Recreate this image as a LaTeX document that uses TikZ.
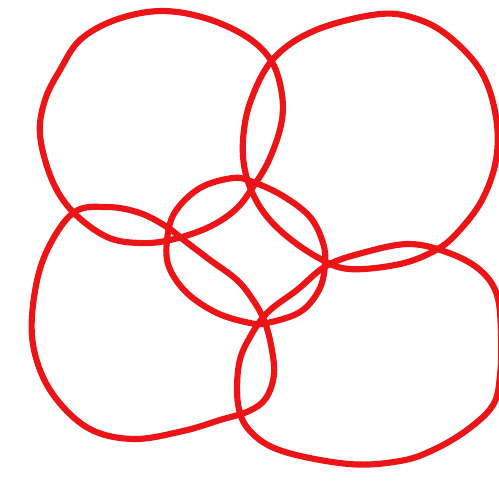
\documentclass[tikz,border=0pt]{standalone}
\definecolor{loopred}{RGB}{236,20,22}
\begin{document}
\begin{tikzpicture}[x=0.02cm,y=-0.02cm,
  loopline/.style={draw=loopred,line width=3.5pt,line join=round}]
\useasboundingbox (0,0) rectangle (499,481);
% top-left loop
\draw[loopline] plot[smooth cycle,tension=0.6] coordinates {
 (160,11) (205,18) (247,37) (272,62) (282,95) (281,125) (269,160) (253,187)
 (235,210) (207,228) (170,240) (140,243) (107,237) (73,212) (52,180) (40,135)
 (45,100) (60,70) (80,40) (115,20)};
% top-right loop
\draw[loopline] plot[smooth cycle,tension=0.6] coordinates {
 (380,14) (420,20) (452,39) (482,73) (496,117) (496,160) (482,200) (458,232)
 (436,250) (400,264) (349,269) (317,257) (283,233) (260,207) (246,175) (243,140)
 (251,100) (274,58) (316,30)};
% middle loop
\draw[loopline] plot[smooth cycle,tension=0.6] coordinates {
 (233,178) (253,182) (283,196) (310,217) (323,243) (325,265) (319,290) (300,312)
 (267,323) (250,323) (217,313) (187,293) (169,267) (167,240) (175,212) (200,188)};
% bottom-left loop
\draw[loopline] plot[smooth cycle,tension=0.6] coordinates {
 (107,207) (140,213) (167,227) (185,241) (210,260) (237,280) (253,300) (264,320)
 (271,345) (274,374) (266,398) (249,411) (220,420) (183,431) (133,439) (88,428)
 (52,393) (34,350) (33,305) (45,255) (73,213)};
% bottom-right loop
\draw[loopline] plot[smooth cycle,tension=0.6] coordinates {
 (409,244) (449,253) (480,270) (497,295) (501,335) (500,375) (493,405) (467,430)
 (433,450) (400,461) (349,464) (282,451) (250,431) (238,404) (239,364) (250,337)
 (268,312) (297,290) (326,266) (362,253)};
\end{tikzpicture}
\end{document}
